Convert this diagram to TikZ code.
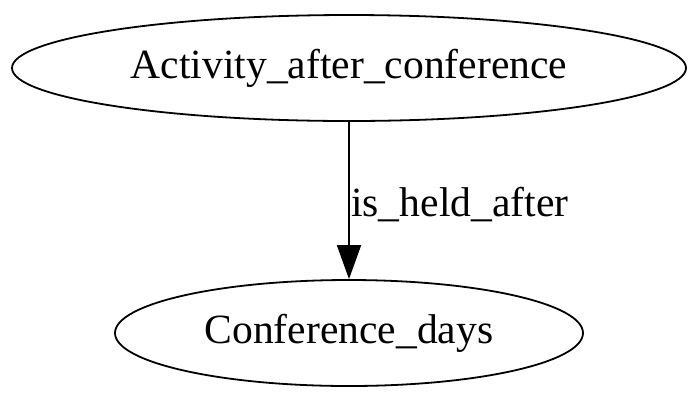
\documentclass[tikz,border=0pt]{standalone}
\usepackage{fontspec}
\setmainfont{Liberation Serif}
\usetikzlibrary{shapes.geometric,arrows.meta}
\begin{document}
\begin{tikzpicture}[x=1pt,y=-1pt,
  gnode/.style={draw,ellipse,line width=1.8pt,inner sep=0pt},
  lbl/.style={font=\fontsize{41.6}{46}\selectfont},
  edge/.style={line width=1.8pt,-{Triangle[length=34pt,width=24pt]}}]
\useasboundingbox (0,0) rectangle (700,400);
\node[gnode,minimum width=674pt,minimum height=106pt] (a) at (349,68) {};
\node[lbl] at (349,68) {Activity\_after\_conference};
\node[gnode,minimum width=468pt,minimum height=106pt] (c) at (349,333) {};
\node[lbl] at (349,333) {Conference\_days};
\draw[edge] (a) -- (c) node[midway,right=-2pt,lbl,yshift=-4pt] (l) {is\_held\_after};
\end{tikzpicture}
\end{document}
